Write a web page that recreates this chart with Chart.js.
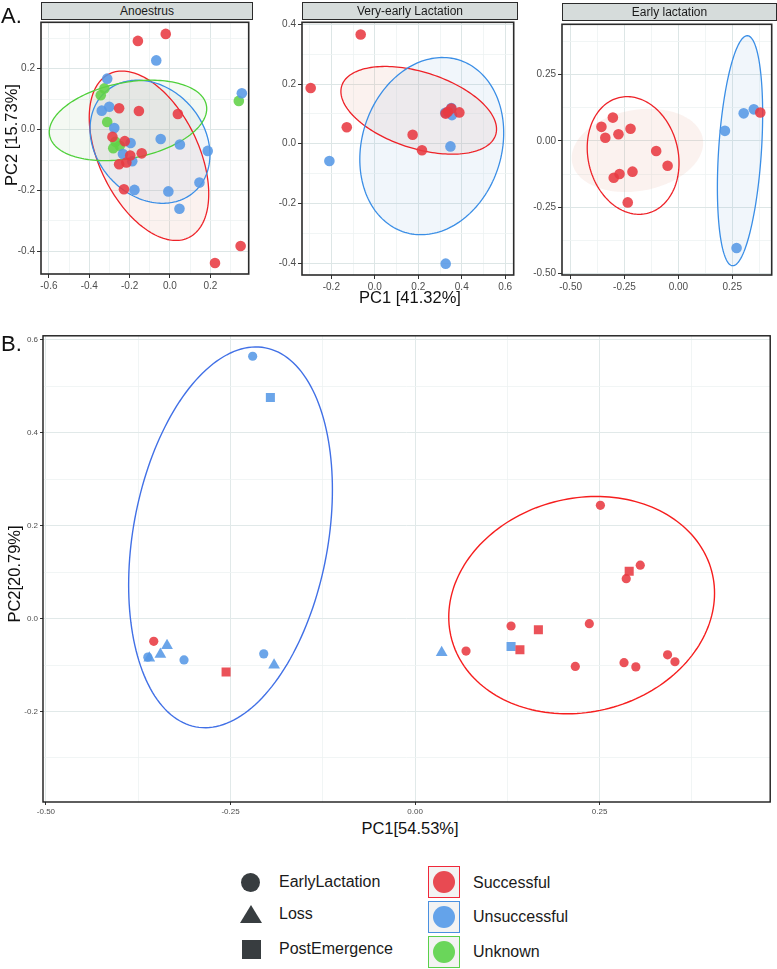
<!DOCTYPE html>
<html><head><meta charset="utf-8">
<script src="https://cdn.jsdelivr.net/npm/chart.js@4/dist/chart.umd.min.js"></script>
<style>
body{margin:0;background:#fff;font-family:"Liberation Sans",Arial,sans-serif;}
#wrap{position:relative;width:777px;height:969px;overflow:hidden;background:#fff}
canvas{position:absolute}
.strip{position:absolute;background:#d6dcdb;border:1px solid #2b2b2b;box-sizing:border-box;font-size:12px;color:#1a1a1a;text-align:center;line-height:16px;height:18px}
.t{position:absolute;white-space:nowrap;color:#111;line-height:1}
.rot{transform:translate(-50%,-50%) rotate(-90deg)}
.ctr{transform:translate(-50%,-50%)}
.lg{position:absolute;font-size:16px;color:#1a1a1a;line-height:1;transform:translateY(-50%);white-space:nowrap}
.box{position:absolute;width:32px;height:32px;box-sizing:border-box;border:1.5px solid;background:#f3f3f3}
.box div{position:absolute;left:4px;top:4px;width:22px;height:22px;border-radius:50%}
</style></head>
<body><div id="wrap"></div>
<script>
// ---------------- DATA ----------------
// Panel A – Anoestrus  [PC1, PC2]
const anoSuccessful = [[-0.159,0.291],[-0.021,0.314],[-0.252,0.070],[-0.154,0.061],[0.039,0.051],[-0.285,-0.024],[-0.224,-0.038],[-0.197,-0.085],[-0.140,-0.078],[-0.252,-0.114],[-0.216,-0.108],[-0.228,-0.196],[0.350,-0.382],[0.223,-0.438]];
const anoUnsuccessful = [[-0.068,0.227],[-0.311,0.167],[-0.338,0.062],[-0.301,0.075],[-0.276,0.005],[-0.195,-0.044],[-0.233,-0.080],[-0.187,-0.104],[-0.046,-0.031],[0.049,-0.049],[0.187,-0.070],[0.146,-0.174],[-0.176,-0.198],[-0.008,-0.203],[0.047,-0.260],[0.356,0.119]];
const anoUnknown = [[-0.325,0.135],[-0.343,0.113],[-0.311,0.025],[-0.281,-0.061],[-0.249,-0.053],[-0.270,-0.040],[0.341,0.094]];
// ellipses: [centerX, centerY, halfWidthX, halfHeightY, correlation]
const anoEllSuccessful = [-0.104,-0.086,0.296,0.278,-0.45];
const anoEllUnsuccessful = [-0.099,-0.040,0.297,0.202,-0.21];
const anoEllUnknown = [-0.208,0.030,0.390,0.132,0.29];

// Panel A – Very-early Lactation
const velSuccessful = [[-0.065,0.366],[-0.295,0.187],[-0.129,0.055],[0.174,0.030],[0.217,-0.022],[0.336,0.107],[0.389,0.105],[0.352,0.118],[0.326,0.101]];
const velUnsuccessful = [[-0.209,-0.058],[0.348,-0.009],[0.326,-0.402],[0.352,0.120],[0.324,0.104],[0.355,0.096]];
const velEllSuccessful = [0.202,0.112,0.358,0.147,-0.43];
const velEllUnsuccessful = [0.262,-0.008,0.331,0.297,0.15];

// Panel A – Early lactation
const elSuccessful = [[-0.357,0.053],[-0.304,0.088],[-0.339,0.012],[-0.278,0.025],[-0.222,0.046],[-0.103,-0.038],[-0.050,-0.094],[-0.300,-0.139],[-0.273,-0.125],[-0.213,-0.116],[-0.235,-0.232],[0.380,0.107]];
const elUnsuccessful = [[0.216,0.038],[0.303,0.104],[0.350,0.119],[0.270,-0.404]];
const elEllSuccessful = [-0.210,-0.055,0.213,0.222,-0.13];
const elEllSuccessfulFill = [-0.190,-0.036,0.305,0.157,0.18];
const elEllUnsuccessful = [0.286,-0.037,0.105,0.434,0.32];

// Panel B
const bSuccessfulEarlyLactation = [[0.251,0.244],[0.305,0.115],[0.286,0.086],[-0.354,-0.049],[0.069,-0.070],[0.130,-0.016],[0.236,-0.011],[0.217,-0.103],[0.283,-0.095],[0.299,-0.104],[0.342,-0.078],[0.352,-0.093]];
const bSuccessfulPostEmergence = [[0.290,0.102],[-0.256,-0.115],[0.167,-0.024],[0.142,-0.067]];
const bUnsuccessfulEarlyLactation = [[-0.220,0.565],[-0.313,-0.089],[-0.205,-0.076],[-0.362,-0.083]];
const bUnsuccessfulPostEmergence = [[-0.196,0.476],[0.130,-0.060]];
const bUnsuccessfulLoss = [[-0.336,-0.058],[-0.360,-0.085],[-0.345,-0.077],[-0.191,-0.100],[0.036,-0.073]];
const bEllUnsuccessful = [-0.250,0.175,0.138,0.410,0.25];
const bEllSuccessful = [0.2256,0.029,0.180,0.234,0.11];

// tick labels
const anoXTicks = [-0.6,-0.4,-0.2,0.0,0.2], anoXMinor = [-0.5,-0.3,-0.1,0.1,0.3];
const anoYTicks = [-0.4,-0.2,0.0,0.2], anoYMinor = [-0.3,-0.1,0.1,0.3];
const velXTicks = [-0.2,0.0,0.2,0.4,0.6], velXMinor = [-0.3,-0.1,0.1,0.3,0.5];
const velYTicks = [-0.4,-0.2,0.0,0.2,0.4], velYMinor = [-0.3,-0.1,0.1,0.3];
const elXTicks = [-0.50,-0.25,0.00,0.25], elXMinor = [-0.375,-0.125,0.125,0.375];
const elYTicks = [-0.50,-0.25,0.00,0.25], elYMinor = [-0.375,-0.125,0.125,0.375];
const bXTicks = [-0.50,-0.25,0.00,0.25], bXMinor = [-0.375,-0.125,0.125,0.375];
const bYTicks = [-0.2,0.0,0.2,0.4,0.6], bYMinor = [-0.3,-0.1,0.1,0.3,0.5];

// ---------------- STYLE ----------------
const FONT = '"Liberation Sans", Arial, sans-serif';
const RED = 'rgba(232,58,66,0.88)', BLUE = 'rgba(86,152,230,0.88)', GREEN = 'rgba(98,210,72,0.88)';
const RED_L = '#ee2228', BLUE_L = '#3a8ee6', GREEN_L = '#4fd03a';
const RED_F = 'rgba(225,165,150,0.15)', BLUE_F = 'rgba(150,185,225,0.13)', GREEN_F = 'rgba(175,215,170,0.14)';

const ellipsePlugin = {
  id:'ellipses',
  beforeDatasetsDraw(chart){
    const {ctx, chartArea:a, scales:{x,y}} = chart;
    const items = chart.canvas._ellipses || [];
    ctx.save();
    ctx.beginPath(); ctx.rect(a.left,a.top,a.right-a.left,a.bottom-a.top); ctx.clip();
    items.forEach(e=>{
      const [cx,cy,hx,hy,rho] = e.p;
      const phi = Math.acos(rho);
      ctx.beginPath();
      for(let i=0;i<=180;i++){
        const t = i/180*Math.PI*2;
        const px = x.getPixelForValue(cx+hx*Math.cos(t));
        const py = y.getPixelForValue(cy+hy*Math.cos(t-phi));
        if(i===0) ctx.moveTo(px,py); else ctx.lineTo(px,py);
      }
      ctx.closePath();
      if(e.fillColor){ctx.fillStyle=e.fillColor;ctx.fill();}
      if(e.strokeColor){ctx.strokeStyle=e.strokeColor;ctx.lineWidth=e.lw||1.3;ctx.stroke();}
    });
    ctx.restore();
  }
};
const framePlugin = {
  id:'frame',
  afterDraw(chart){
    const {ctx, chartArea:a} = chart;
    const f = chart.canvas._frame;
    ctx.save();
    ctx.strokeStyle = f.color; ctx.lineWidth = f.width;
    ctx.strokeRect(a.left,a.top,a.right-a.left,a.bottom-a.top);
    ctx.restore();
  }
};

function tickList(major, minor){
  return major.map(v=>({value:v,minor:false})).concat(minor.map(v=>({value:v,minor:true}))).sort((p,q)=>p.value-q.value);
}

function panel(o){
  const wrap = document.getElementById('wrap');
  const cv = document.createElement('canvas');
  const cl = o.left - o.yW, ct = o.top - o.padTop;
  const cw = o.yW + (o.right-o.left) + o.padRight, ch = o.padTop + (o.bottom-o.top) + o.xH;
  cv.width = cw; cv.height = ch;
  cv.style.left = cl+'px'; cv.style.top = ct+'px'; cv.style.width = cw+'px'; cv.style.height = ch+'px';
  cv._ellipses = o.ellipses;
  cv._frame = {color:o.frameColor, width:o.frameWidth};
  wrap.appendChild(cv);
  const gridOpts = {
    color: c => (c.tick && c.tick.minor) ? o.minorGrid : o.majorGrid,
    lineWidth: c => (c.tick && c.tick.minor) ? 0.8 : 1,
    tickColor: c => (c.tick && c.tick.minor) ? 'rgba(0,0,0,0)' : '#333',
    tickLength: o.tickLen, drawTicks:true, drawOnChartArea:true, tickWidth:1
  };
  const tickOpts = dec => ({autoSkip:false, maxRotation:0, minRotation:0, padding:o.tickPad, color:'#4d4d4d',
    font:{size:o.fontSize, family:FONT},
    callback:(v,i,t)=> t[i].minor ? '' : Number(v).toFixed(dec)});
  new Chart(cv, {
    type:'scatter',
    data:{datasets:o.datasets},
    options:{
      responsive:false, animation:false, devicePixelRatio:1,
      layout:{padding:{top:o.padTop,right:o.padRight,left:0,bottom:0}},
      plugins:{legend:{display:false}, tooltip:{enabled:false}},
      scales:{
        x:{type:'linear', position:'bottom', min:o.xr[0], max:o.xr[1],
          afterBuildTicks:s=>{s.ticks = tickList(o.xMaj,o.xMin);},
          afterFit:s=>{s.height=o.xH; s.paddingLeft=0; s.paddingRight=0; s.paddingTop=0; s.paddingBottom=0;},
          grid:gridOpts, border:{display:false}, ticks:tickOpts(o.xDec)},
        y:{type:'linear', position:'left', min:o.yr[0], max:o.yr[1],
          afterBuildTicks:s=>{s.ticks = tickList(o.yMaj,o.yMin);},
          afterFit:s=>{s.width=o.yW; s.paddingLeft=0; s.paddingRight=0; s.paddingTop=0; s.paddingBottom=0;},
          grid:gridOpts, border:{display:false}, ticks:tickOpts(o.yDec)}
      }
    },
    plugins:[ellipsePlugin, framePlugin]
  });
}

function pts(arr){ return arr.map(p=>({x:p[0],y:p[1]})); }
function ds(arr, color, style, r){ return {data:pts(arr), backgroundColor:color, borderWidth:0, pointStyle:style, pointRadius:r, pointHoverRadius:r}; }

const A_R = 5.3;
const aCommon = {yW:40, xH:17, padTop:2, padRight:2, tickLen:4, tickPad:2, fontSize:10,
  majorGrid:'#dde6e6', minorGrid:'#eef3f3', frameColor:'#2b2b2b', frameWidth:1.6};

panel(Object.assign({}, aCommon, {
  left:41, right:252, top:19, bottom:274, yW:41,
  xr:[-0.639,0.39], yr:[-0.474,0.352], xMaj:anoXTicks, xMin:anoXMinor, yMaj:anoYTicks, yMin:anoYMinor, xDec:1, yDec:1,
  datasets:[ds(anoSuccessful,RED,'circle',A_R), ds(anoUnsuccessful,BLUE,'circle',A_R), ds(anoUnknown,GREEN,'circle',A_R)],
  ellipses:[{p:anoEllSuccessful,fillColor:RED_F},{p:anoEllUnsuccessful,fillColor:BLUE_F},{p:anoEllUnknown,fillColor:GREEN_F},
            {p:anoEllSuccessful,strokeColor:RED_L},{p:anoEllUnsuccessful,strokeColor:BLUE_L},{p:anoEllUnknown,strokeColor:GREEN_L}]
}));
panel(Object.assign({}, aCommon, {
  left:302, right:517, top:19, bottom:275,
  xr:[-0.335,0.639], yr:[-0.44,0.407], xMaj:velXTicks, xMin:velXMinor, yMaj:velYTicks, yMin:velYMinor, xDec:1, yDec:1,
  datasets:[ds(velSuccessful,RED,'circle',A_R), ds(velUnsuccessful,BLUE,'circle',A_R)],
  ellipses:[{p:velEllSuccessful,fillColor:RED_F},{p:velEllUnsuccessful,fillColor:BLUE_F},
            {p:velEllSuccessful,strokeColor:RED_L},{p:velEllUnsuccessful,strokeColor:BLUE_L}]
}));
panel(Object.assign({}, aCommon, {
  left:562, right:776, top:21, bottom:275, padRight:1,
  xr:[-0.54,0.433], yr:[-0.506,0.44], xMaj:elXTicks, xMin:elXMinor, yMaj:elYTicks, yMin:elYMinor, xDec:2, yDec:2,
  datasets:[ds(elSuccessful,RED,'circle',A_R), ds(elUnsuccessful,BLUE,'circle',A_R)],
  ellipses:[{p:elEllSuccessfulFill,fillColor:RED_F},{p:elEllUnsuccessful,fillColor:BLUE_F},
            {p:elEllSuccessful,strokeColor:RED_L},{p:elEllUnsuccessful,strokeColor:BLUE_L}]
}));
panel({
  left:43, right:775, top:332, bottom:802, yW:43, xH:16, padTop:3, padRight:2, tickLen:3, tickPad:2, fontSize:8,
  majorGrid:'#e1e9e9', minorGrid:'#eef3f3', frameColor:'#1a1a1a', frameWidth:1.4,
  xr:[-0.504,0.481], yr:[-0.395,0.609], xMaj:bXTicks, xMin:bXMinor, yMaj:bYTicks, yMin:bYMinor, xDec:2, yDec:1,
  datasets:[ds(bSuccessfulEarlyLactation,RED,'circle',4.6), ds(bSuccessfulPostEmergence,RED,'rect',6.4),
            ds(bUnsuccessfulEarlyLactation,BLUE,'circle',4.6), ds(bUnsuccessfulPostEmergence,BLUE,'rect',6.4),
            ds(bUnsuccessfulLoss,BLUE,'triangle',6.8)],
  ellipses:[{p:bEllUnsuccessful,strokeColor:'#4170e6',lw:1.4},{p:bEllSuccessful,strokeColor:'#f61e1e',lw:1.4}]
});

// ---------------- TEXT / LEGEND ----------------
const wrap = document.getElementById('wrap');
function add(html){ wrap.insertAdjacentHTML('beforeend', html); }
add('<div class="strip" style="left:41px;top:2px;width:212px">Anoestrus</div>');
add('<div class="strip" style="left:302px;top:2px;width:216px">Very-early Lactation</div>');
add('<div class="strip" style="left:562px;top:3px;width:215px">Early lactation</div>');
add('<div class="t" style="left:1px;top:5px;font-size:22px">A.</div>');
add('<div class="t" style="left:1px;top:333px;font-size:22px">B.</div>');
add('<div class="t rot" style="left:11px;top:135px;font-size:16.5px">PC2 [15.73%]</div>');
add('<div class="t ctr" style="left:410px;top:297px;font-size:16.5px">PC1 [41.32%]</div>');
add('<div class="t rot" style="left:14px;top:574px;font-size:16.5px">PC2[20.79%]</div>');
add('<div class="t ctr" style="left:410px;top:828px;font-size:16.5px">PC1[54.53%]</div>');

const shapeLegend = ['EarlyLactation','Loss','PostEmergence'];
const colorLegend = ['Successful','Unsuccessful','Unknown'];
const DARK = '#383d40';
add('<div style="position:absolute;left:241px;top:873px;width:19px;height:19px;border-radius:50%;background:'+DARK+'"></div>');
add('<svg style="position:absolute;left:239px;top:904px" width="24" height="20"><polygon points="12,1 23,19 1,19" fill="'+DARK+'"/></svg>');
add('<div style="position:absolute;left:242px;top:940px;width:19px;height:19px;background:'+DARK+'"></div>');
[882,914,949].forEach((y,i)=>add('<div class="lg" style="left:279px;top:'+y+'px">'+shapeLegend[i]+'</div>'));
const boxCols = [['#f0283a','#e84a52'],['#4a90e0','#64a3ea'],['#5ad04a','#6ad65a']];
[866,901,936].forEach((y,i)=>add('<div class="box" style="left:428px;top:'+y+'px;border-color:'+boxCols[i][0]+'"><div style="background:'+boxCols[i][1]+'"></div></div>'));
[883,917,952].forEach((y,i)=>add('<div class="lg" style="left:473px;top:'+y+'px">'+colorLegend[i]+'</div>'));
</script>
</body></html>
